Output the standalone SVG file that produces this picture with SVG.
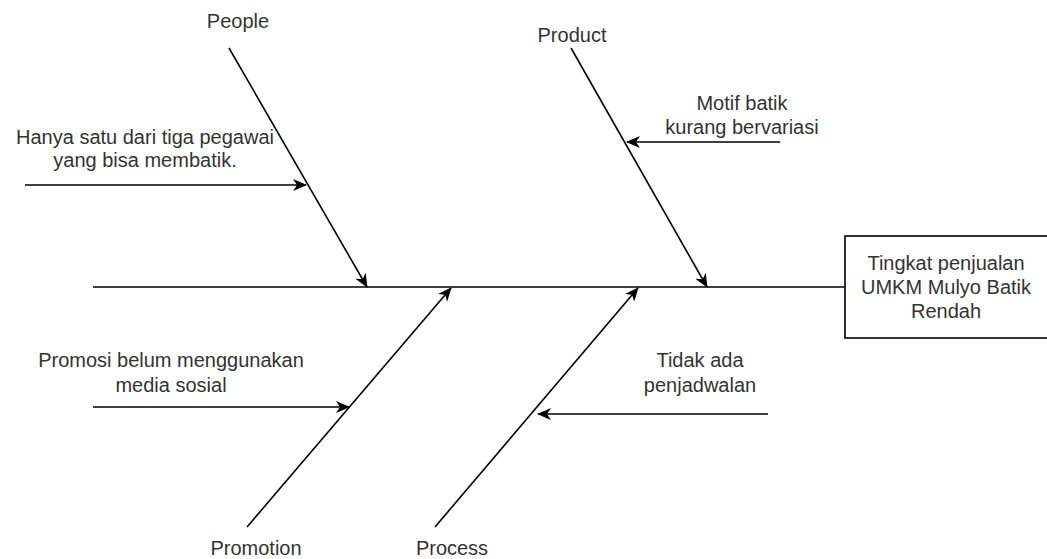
<svg xmlns="http://www.w3.org/2000/svg" width="1047" height="559" viewBox="0 0 1047 559">
  <style>
    .t { font-family: "Liberation Sans", Arial, sans-serif; font-size: 20px; fill: #333333; text-anchor: middle; }
    .ln { stroke: #000000; stroke-width: 1.6; fill: none; }
    .box { fill: #ffffff; stroke: #000000; stroke-width: 1.6; }
  </style>
  <defs>
    <marker id="arr" markerUnits="userSpaceOnUse" markerWidth="14" markerHeight="12" viewBox="0 0 14 12" refX="13" refY="6" orient="auto">
      <path d="M0,0 L14,6 L0,12 L4,6 Z" fill="#000000"/>
    </marker>
  </defs>
  <rect width="1047" height="559" fill="#ffffff"/>

  <g id="connectors">
    <line class="ln" x1="93" y1="287" x2="845" y2="287"/>
    <line class="ln" x1="229" y1="48" x2="367" y2="287" marker-end="url(#arr)"/>
    <line class="ln" x1="571" y1="48" x2="707" y2="287" marker-end="url(#arr)"/>
    <line class="ln" x1="247" y1="527" x2="451" y2="288" marker-end="url(#arr)"/>
    <line class="ln" x1="435" y1="527" x2="638" y2="288" marker-end="url(#arr)"/>
    <line class="ln" x1="25" y1="185" x2="306" y2="185" marker-end="url(#arr)"/>
    <line class="ln" x1="780" y1="142" x2="627" y2="142" marker-end="url(#arr)"/>
    <line class="ln" x1="93" y1="407" x2="349" y2="407" marker-end="url(#arr)"/>
    <line class="ln" x1="768" y1="414" x2="538" y2="414" marker-end="url(#arr)"/>
  </g>

  <g id="effect">
    <rect class="box" x="845" y="236" width="203" height="102"/>
    <text class="t" x="946" y="270">Tingkat penjualan</text>
    <text class="t" x="946" y="294">UMKM Mulyo Batik</text>
    <text class="t" x="946" y="318">Rendah</text>
  </g>

  <g id="people">
    <text class="t" x="238" y="28">People</text>
  </g>
  <g id="product">
    <text class="t" x="572" y="42">Product</text>
  </g>
  <g id="promotion">
    <text class="t" x="256" y="555">Promotion</text>
  </g>
  <g id="process">
    <text class="t" x="452" y="555">Process</text>
  </g>

  <g id="cause-people">
    <text class="t" x="145" y="144">Hanya satu dari tiga pegawai</text>
    <text class="t" x="145" y="167">yang bisa membatik.</text>
  </g>
  <g id="cause-product">
    <text class="t" x="742" y="110">Motif batik</text>
    <text class="t" x="742" y="134">kurang bervariasi</text>
  </g>
  <g id="cause-promotion">
    <text class="t" x="171" y="367">Promosi belum menggunakan</text>
    <text class="t" x="171" y="392">media sosial</text>
  </g>
  <g id="cause-process">
    <text class="t" x="700" y="367">Tidak ada</text>
    <text class="t" x="700" y="392">penjadwalan</text>
  </g>
</svg>
